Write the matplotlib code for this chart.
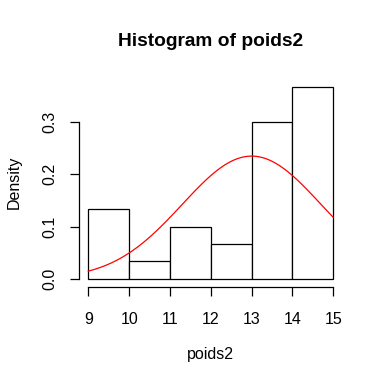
import matplotlib
matplotlib.use('Agg')
import matplotlib.pyplot as plt
import numpy as np

# histogram of poids2 (density scale), n=30
bin_edges = [9, 10, 11, 12, 13, 14, 15]
densities = [0.1333, 0.0333, 0.1, 0.0667, 0.3, 0.3667]
# normal curve laid over it
fit_mean = 13.0
fit_sd = 1.70
x_ticks = [9, 10, 11, 12, 13, 14, 15]
y_ticks = [0.0, 0.1, 0.2, 0.3]

def main():
    plt.rcParams['font.family'] = ['Liberation Sans', 'DejaVu Sans']
    fig = plt.figure(figsize=(3.84, 3.84), dpi=100)
    W = 384.0
    # plot region in pixels: left 78.5, right 343.1, top 79.4, bottom 286.5
    ax = fig.add_axes([78.5/W, 1-286.5/W, (343.1-78.5)/W, (286.5-79.4)/W])

    lefts = np.array(bin_edges[:-1])
    widths = np.diff(bin_edges)
    ax.bar(lefts, densities, width=widths, align='edge', facecolor='white',
           edgecolor='black', linewidth=0.9)

    xs = np.linspace(bin_edges[0], bin_edges[-1], 101)
    ys = np.exp(-(xs-fit_mean)**2/(2*fit_sd**2))/(fit_sd*np.sqrt(2*np.pi))
    ax.plot(xs, ys, color='red', linewidth=0.9)

    ymax = max(densities)
    xr = bin_edges[-1]-bin_edges[0]
    ax.set_xlim(bin_edges[0]-0.04*xr, bin_edges[-1]+0.04*xr)
    ax.set_ylim(-0.04*ymax, ymax*1.04)

    for s in ['top', 'right']:
        ax.spines[s].set_visible(False)
    ax.spines['left'].set_bounds(y_ticks[0], y_ticks[-1])
    ax.spines['bottom'].set_bounds(x_ticks[0], x_ticks[-1])
    ax.spines['left'].set_linewidth(0.9)
    ax.spines['bottom'].set_linewidth(0.9)
    ax.set_xticks(x_ticks)
    ax.set_xticklabels([str(t) for t in x_ticks])
    ax.set_yticks(y_ticks)
    ax.set_yticklabels(['%.1f' % t for t in y_ticks], rotation=90, va='center')
    ax.tick_params(axis='both', length=6.5, width=0.9, labelsize=11.5)
    ax.tick_params(axis='x', pad=11.5)
    ax.tick_params(axis='y', pad=8.5)

    fig.text(211/W, 1-42/W, 'Histogram of poids2', ha='center', va='center',
             fontsize=13.8, fontweight='bold')
    fig.text(210/W, 1-355/W, 'poids2', ha='center', va='center', fontsize=11.5)
    fig.text(14/W, 1-182/W, 'Density', ha='center', va='center', fontsize=11.5,
             rotation=90)

    fig.savefig('out.png', dpi=100)

if __name__ == '__main__':
    main()
